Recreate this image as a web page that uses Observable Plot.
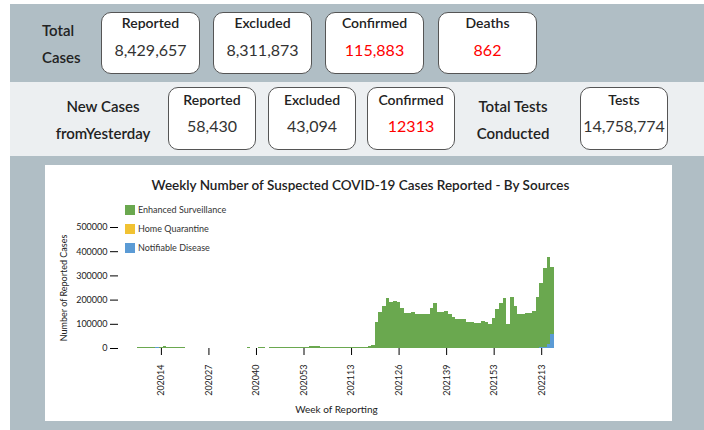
<!DOCTYPE html>
<html><head><meta charset="utf-8">
<script src="https://cdn.jsdelivr.net/npm/d3@7"></script>
<script src="https://cdn.jsdelivr.net/npm/@observablehq/plot@0.6"></script>
<style>
body{margin:0;width:704px;height:430px;overflow:hidden;background:#fff;font-family:Lato,"Open Sans",sans-serif;color:#222;position:relative}
.abs{position:absolute}
.bg1{left:10px;top:4px;width:694px;height:426px;background:#b0bec5}
.bg2{left:10px;top:82px;width:694px;height:74px;background:#eceff1}
.panel{left:45px;top:165px;width:627px;height:256px;background:#fff}
.head{position:absolute;font-size:15px;font-weight:600;line-height:20px;color:#222;white-space:nowrap}
.card{position:absolute;background:#fff;border:1px solid #555;border-radius:10px;box-sizing:border-box}
.card .lab{position:absolute;left:0;right:0;text-align:center;font-size:14px;font-weight:600;line-height:20px;color:#222}
.card .val{position:absolute;left:0;right:0;text-align:center;font-size:16px;font-weight:400;line-height:20px;color:#333}
.card .red{color:#f00}
.title{position:absolute;left:0;width:631px;top:10px;text-align:center;font-size:13.5px;font-weight:600;line-height:20px;color:#222}
.legend{position:absolute;left:80px;font-size:9px;line-height:10px;color:#333;white-space:nowrap}
.legend i{display:inline-block;width:10px;height:10px;vertical-align:top;margin-right:3px}
#chart{position:absolute;left:0;top:30px}
</style>
</head><body>
<div class="abs bg1"></div>
<div class="abs bg2"></div>
<div class="abs panel" id="panel">
  <div class="title">Weekly Number of Suspected COVID-19 Cases Reported - By Sources</div>
  <div id="chart"></div>
</div>
<div id="cards"></div>
<script>
// ---- summary figures ----
const totalLabels = ["Reported", "Excluded", "Confirmed", "Deaths"];
const totalValues = ["8,429,657", "8,311,873", "115,883", "862"];
const newLabels = ["Reported", "Excluded", "Confirmed"];
const newValues = ["58,430", "43,094", "12313"];
const testLabel = "Tests";
const testValue = "14,758,774";

// ---- chart data ----
const weeks = [
  "202004","202005","202006","202007","202008","202009","202010","202011","202012","202013",
  "202014","202015","202016","202017","202018","202019","202020","202021","202022","202023",
  "202024","202025","202026","202027","202028","202029","202030","202031","202032","202033",
  "202034","202035","202036","202037","202038","202039","202040","202041","202042","202043",
  "202044","202045","202046","202047","202048","202049","202050","202051","202052","202053",
  "202101","202102","202103","202104","202105","202106","202107","202108","202109","202110",
  "202111","202112","202113","202114","202115","202116","202117","202118","202119","202120",
  "202121","202122","202123","202124","202125","202126","202127","202128","202129","202130",
  "202131","202132","202133","202134","202135","202136","202137","202138","202139","202140",
  "202141","202142","202143","202144","202145","202146","202147","202148","202149","202150",
  "202151","202153",
  "202201","202202","202203","202204","202205","202206","202207","202208","202209","202210",
  "202211","202212","202213","202214","202215","202216"
];
const enhancedSurveillance = [
  0,0,0,0,2500,2500,3000,2000,2000,2500,
  4000,5500,5500,4500,2500,2000,2000,0,0,0,
  0,0,0,0,0,0,0,0,0,0,
  0,0,0,0,2500,0,0,2500,2500,0,
  2500,3000,3000,3500,3000,3000,3500,3000,3000,3500,
  6000,9000,10000,9000,5000,3500,3000,3500,3000,3500,
  3000,3000,3500,3000,3500,3000,5000,8000,14000,107000,
  148000,171000,203000,187000,192000,189000,162000,142000,142000,149000,
  139000,139000,139000,139000,164000,184000,146000,146000,152000,138000,
  126000,119000,118000,119000,105000,107000,104000,104000,111000,107000,
  97000,122000,
  159000,184000,207000,98000,211000,173000,138000,138000,145000,145000,
  152000,210000,264000,324000,360000,278000
];
const homeQuarantine = [
  0,0,0,0,0,0,0,0,0,0,
  0,0,0,0,0,0,0,0,0,0,
  0,0,0,0,0,0,0,0,0,0,
  0,0,0,0,0,0,0,0,0,0,
  0,0,0,0,0,0,0,0,0,0,
  0,0,0,0,0,0,0,0,0,0,
  0,0,0,0,0,0,0,0,0,0,
  0,0,0,0,0,0,0,0,0,0,
  0,0,0,0,0,0,0,0,0,0,
  0,0,0,0,0,0,0,0,0,0,
  0,0,
  0,0,0,0,0,0,0,0,0,0,
  0,0,0,0,0,0
];
const notifiableDisease = [
  0,0,0,0,0,0,0,1000,2000,2500,
  2000,1500,500,500,500,500,500,0,0,0,
  0,0,0,0,0,0,0,0,0,0,
  0,0,0,0,0,0,0,0,0,0,
  0,0,0,0,0,0,0,0,0,0,
  0,0,0,0,0,0,0,0,0,0,
  0,0,0,0,0,0,0,0,0,2000,
  2000,2000,2000,2000,2000,2000,2000,1000,1000,1000,
  1000,1000,1000,1000,1000,1000,1000,1000,1000,1000,
  1000,1000,1000,1000,1000,1000,1000,1000,1000,1000,
  1000,1000,
  1000,1000,1000,1000,1000,1000,1000,1000,1000,1000,
  1000,2000,3000,5000,15000,58000
];
const sources = ["Enhanced Surveillance", "Home Quarantine", "Notifiable Disease"];
const sourceColors = ["#6aa84f", "#f1c232", "#5b9bd5"];
const yTicks = [0, 100000, 200000, 300000, 400000, 500000];
const xTicks = ["202014","202027","202040","202053","202113","202126","202139","202153","202213"];

// ---- cards ----
const cardsEl = document.getElementById("cards");
function head(text, left, top, center) {
  const d = document.createElement("div");
  d.className = "head";
  d.textContent = text;
  if (center) { d.style.left = (left - 60) + "px"; d.style.width = "120px"; d.style.textAlign = "center"; }
  else d.style.left = left + "px";
  d.style.top = top + "px";
  cardsEl.appendChild(d);
}
function card(label, value, left, top, w, h, red, labTop, valTop) {
  const c = document.createElement("div");
  c.className = "card";
  c.style.left = left + "px"; c.style.top = top + "px";
  c.style.width = w + "px"; c.style.height = h + "px";
  const l = document.createElement("div"); l.className = "lab"; l.textContent = label; l.style.top = labTop + "px";
  const v = document.createElement("div"); v.className = "val" + (red ? " red" : ""); v.textContent = value; v.style.top = valTop + "px";
  c.appendChild(l); c.appendChild(v);
  cardsEl.appendChild(c);
}
head("Total", 42, 20, false);
head("Cases", 42, 47, false);
const row1Left = [101, 213, 325, 438];
totalLabels.forEach((t, i) => card(t, totalValues[i], row1Left[i], 12, 99, 62, i >= 2, 0, 27));
head("New Cases", 103, 96, true);
head("fromYesterday", 103, 123, true);
const row2Left = [168, 268, 367];
newLabels.forEach((t, i) => card(t, newValues[i], row2Left[i], 87, 88, 63, i === 2, 2, 28));
head("Total Tests", 513, 96, true);
head("Conducted", 513, 123, true);
card(testLabel, testValue, 580, 87, 88, 63, false, 2, 28);

// ---- legend ----
const panel = document.getElementById("panel");
sources.forEach((s, i) => {
  const d = document.createElement("div");
  d.className = "legend";
  d.style.top = [40, 59, 78][i] + "px";
  d.innerHTML = `<i style="background:${sourceColors[i]}"></i>`;
  d.appendChild(document.createTextNode(s));
  panel.appendChild(d);
});

// ---- chart ----
const rows = [];
weeks.forEach((w, i) => {
  rows.push({week: w, source: "Notifiable Disease", value: notifiableDisease[i]});
  rows.push({week: w, source: "Home Quarantine", value: homeQuarantine[i]});
  rows.push({week: w, source: "Enhanced Surveillance", value: enhancedSurveillance[i]});
});

const chart = Plot.plot({
  width: 627,
  height: 226,
  marginTop: 32,
  marginBottom: 73,
  marginLeft: 73,
  marginRight: 118,
  style: {fontFamily: "Lato, sans-serif", color: "#222", background: "transparent"},
  x: {type: "band", domain: weeks, padding: 0, insetLeft: 4.5},
  y: {domain: [0, 500000]},
  color: {domain: sources, range: sourceColors},
  marks: [
    Plot.barY(rows, {
      x: "week", y: "value", fill: "source",
      order: ["Notifiable Disease", "Home Quarantine", "Enhanced Surveillance"],
      shapeRendering: "crispEdges"
    }),
    Plot.axisY({ticks: yTicks, tickSize: 8, tickPadding: 3, tickFormat: d => String(d), fontSize: 9, label: null, stroke: "#000"}),
    Plot.axisX({ticks: xTicks, tickSize: 7, tickPadding: 9, tickRotate: -90, fontSize: 9, label: null, stroke: "#000"}),
    Plot.text(["Number of Reported Cases"], {text: d => d, frameAnchor: "left", textAnchor: "middle", rotate: -90, dx: -54, fontSize: 9, fill: "#222"}),
    Plot.text(["Week of Reporting"], {text: d => d, frameAnchor: "bottom", textAnchor: "middle", dy: 64, fontSize: 10, fill: "#222"})
  ]
});
document.getElementById("chart").appendChild(chart);
</script>
</body></html>
